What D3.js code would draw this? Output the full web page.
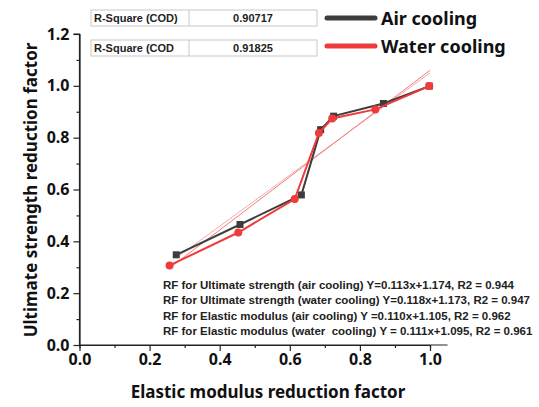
<!DOCTYPE html>
<html>
<head>
<meta charset="utf-8">
<script src="https://cdn.jsdelivr.net/npm/d3@7"></script>
<style>
  body { margin: 0; background: #fff; }
  svg { display: block; }
  .tick text { font-family: "Noto Sans", "Open Sans", sans-serif; font-weight: bold; font-size: 16px; fill: #111; }
  .note { white-space: pre; }
</style>
</head>
<body>
<svg id="chart"></svg>
<script>
// data
const airX = [0.276, 0.458, 0.633, 0.688, 0.725, 0.867, 0.998];
const airY = [0.348, 0.465, 0.579, 0.831, 0.883, 0.932, 0.999];
const waterX = [0.257, 0.453, 0.614, 0.683, 0.721, 0.844, 0.998];
const waterY = [0.307, 0.434, 0.563, 0.818, 0.874, 0.909, 0.999];

// fitted lines (end points)
const fitAirX = [0.28, 1.0];
const fitAirY = [0.34, 1.05];
const fitWaterX = [0.26, 1.0];
const fitWaterY = [0.30, 1.06];

const xTicks = [0.0, 0.2, 0.4, 0.6, 0.8, 1.0];
const yTicks = [0.0, 0.2, 0.4, 0.6, 0.8, 1.0, 1.2];
const minorTicks = [0.1, 0.3, 0.5, 0.7, 0.9, 1.1];

const rsquareLabels = ["R-Square (COD)", "R-Square (COD"];
const rsquareValues = ["0.90717", "0.91825"];
const seriesNames = ["Air cooling", "Water cooling"];
const notes = [
  "RF for Ultimate strength (air cooling) Y=0.113x+1.174, R2 = 0.944",
  "RF for Ultimate strength (water cooling) Y=0.118x+1.173, R2 = 0.947",
  "RF for Elastic modulus (air cooling) Y =0.110x+1.105, R2 = 0.962",
  "RF for Elastic modulus (water  cooling) Y = 0.111x+1.095, R2 = 0.961"
];

const width = 539, height = 407;
const svg = d3.select("#chart").attr("width", width).attr("height", height);

const xScale = d3.scaleLinear().domain([0, 1]).range([79.5, 430]);
const yScale = d3.scaleLinear().domain([0, 1.2]).range([345, 34]);

const airColor = "#3d3d3d";
const waterColor = "#ef3b3b";

// axes
const xAxis = svg.append("g")
  .attr("transform", "translate(0,345)")
  .call(d3.axisBottom(xScale).tickValues(xTicks).tickFormat(d3.format(".1f")).tickSize(6).tickPadding(3));
const yAxis = svg.append("g")
  .attr("transform", "translate(79.5,0)")
  .call(d3.axisLeft(yScale).tickValues(yTicks).tickFormat(d3.format(".1f")).tickSize(6).tickPadding(4));

// minor ticks
svg.append("g")
  .attr("transform", "translate(0,345)")
  .call(d3.axisBottom(xScale).tickValues(minorTicks.filter(d => d < 1.05)).tickFormat("").tickSize(3));
svg.append("g")
  .attr("transform", "translate(79.5,0)")
  .call(d3.axisLeft(yScale).tickValues(minorTicks).tickFormat("").tickSize(3));

svg.selectAll(".domain, .tick line").attr("stroke", "#222").attr("stroke-width", 1.2);
xAxis.select(".domain").attr("d", `M${xScale(0)},0H${xScale(1.05)}`);
yAxis.select(".domain").attr("d", `M-6,${yScale(1.2)}H0V${yScale(0)}`);
svg.selectAll("g").filter(function () { return d3.select(this).select(".tick text").empty(); })
  .select(".domain").remove();

// fit lines
const fitLine = d3.line().x(d => xScale(d[0])).y(d => yScale(d[1]));
svg.append("path").datum(d3.zip(fitAirX, fitAirY))
  .attr("d", fitLine).attr("fill", "none").attr("stroke", "#f6a8a8").attr("stroke-width", 1);
svg.append("path").datum(d3.zip(fitWaterX, fitWaterY))
  .attr("d", fitLine).attr("fill", "none").attr("stroke", "#f27c7c").attr("stroke-width", 1);

// series lines
const line = d3.line().x(d => xScale(d[0])).y(d => yScale(d[1]));
const airData = d3.zip(airX, airY);
const waterData = d3.zip(waterX, waterY);

svg.append("path").datum(airData)
  .attr("d", line).attr("fill", "none").attr("stroke", airColor).attr("stroke-width", 2);
svg.selectAll(".sq").data(airData).enter().append("rect")
  .attr("x", d => xScale(d[0]) - 3.5).attr("y", d => yScale(d[1]) - 3.5)
  .attr("width", 7).attr("height", 7).attr("fill", airColor);

svg.append("path").datum(waterData)
  .attr("d", line).attr("fill", "none").attr("stroke", waterColor).attr("stroke-width", 2);
svg.selectAll(".dot").data(waterData).enter().append("circle")
  .attr("cx", d => xScale(d[0])).attr("cy", d => yScale(d[1]))
  .attr("r", 4).attr("fill", waterColor);

// R-square table
const tableTop = [10, 40];
rsquareLabels.forEach((lab, i) => {
  const g = svg.append("g").attr("transform", `translate(91,${tableTop[i]})`);
  g.append("rect").attr("width", 226).attr("height", 16)
    .attr("fill", "#fff").attr("stroke", "#c8c8c8");
  g.append("line").attr("x1", 98).attr("x2", 98).attr("y1", 0).attr("y2", 16).attr("stroke", "#c8c8c8");
  g.append("text").attr("x", 3).attr("y", 12).text(lab)
    .attr("font-family", "Liberation Sans, Arial, sans-serif").attr("font-weight", "bold")
    .attr("font-size", 11).attr("fill", "#222");
  g.append("text").attr("x", 162).attr("y", 12).attr("text-anchor", "middle").text(rsquareValues[i])
    .attr("font-family", "Liberation Sans, Arial, sans-serif").attr("font-weight", "bold")
    .attr("font-size", 11).attr("fill", "#222");
});

// legend
const legendY = [18, 46];
const legendColors = [airColor, waterColor];
seriesNames.forEach((name, i) => {
  svg.append("line").attr("x1", 327).attr("x2", 375)
    .attr("y1", legendY[i]).attr("y2", legendY[i])
    .attr("stroke", legendColors[i]).attr("stroke-width", 5).attr("stroke-linecap", "round");
  svg.append("text").attr("x", 381).attr("y", legendY[i] + 7).text(name)
    .attr("font-family", "Noto Sans, Open Sans, sans-serif").attr("font-weight", "bold")
    .attr("font-size", 18).attr("fill", "#111");
});

// regression notes
notes.forEach((t, i) => {
  svg.append("text").attr("class", "note").attr("x", 163).attr("y", 289 + i * 15.3).text(t)
    .attr("font-family", "Liberation Sans, Arial, sans-serif").attr("font-weight", "bold")
    .attr("font-size", 11.5).attr("fill", "#222");
});

// axis titles
svg.append("text").attr("x", 268).attr("y", 398).attr("text-anchor", "middle")
  .text("Elastic modulus reduction factor")
  .attr("font-family", "Noto Sans, Open Sans, sans-serif").attr("font-weight", "bold")
  .attr("font-size", 17).attr("fill", "#111");
svg.append("text").attr("transform", "translate(37,190) rotate(-90)").attr("text-anchor", "middle")
  .text("Ultimate strength reduction factor")
  .attr("font-family", "Noto Sans, Open Sans, sans-serif").attr("font-weight", "bold")
  .attr("font-size", 17).attr("fill", "#111");
</script>
</body>
</html>
